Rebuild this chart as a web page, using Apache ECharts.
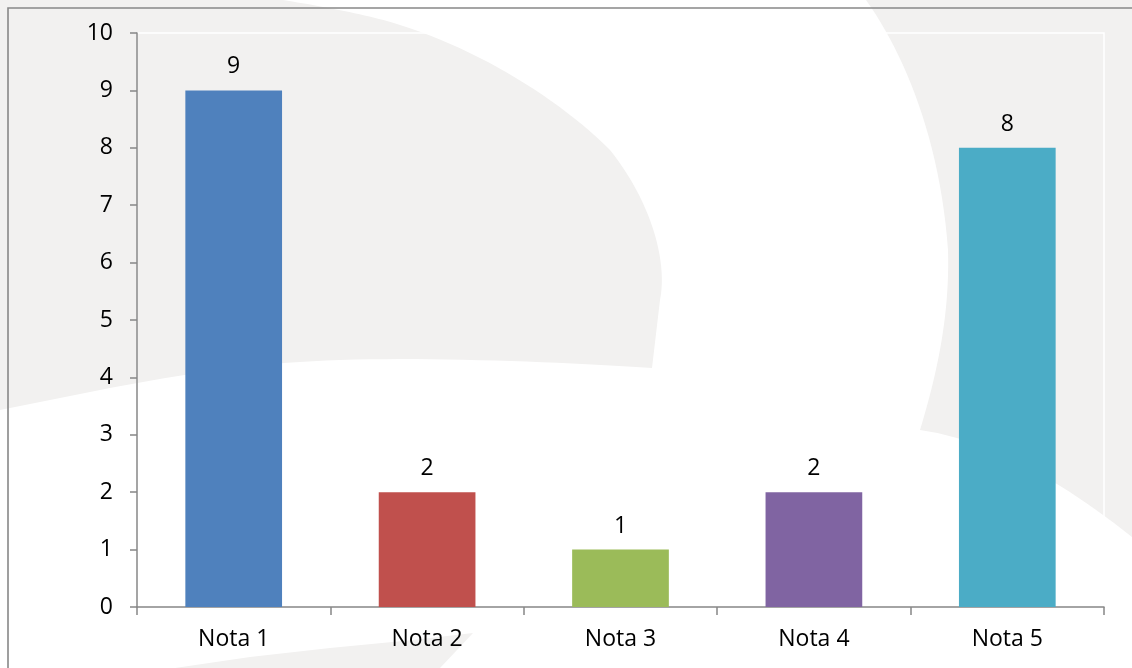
<!DOCTYPE html>
<html>
<head>
<meta charset="utf-8">
<script src="https://cdn.jsdelivr.net/npm/echarts@6/dist/echarts.min.js"></script>
<style>
html,body{margin:0;padding:0;background:#fff;}
#chart{width:1132px;height:668px;}
</style>
</head>
<body>
<div id="chart"></div>
<script>
var categories = ['Nota 1', 'Nota 2', 'Nota 3', 'Nota 4', 'Nota 5'];
var values = [9, 2, 1, 2, 8];
var barColors = ['#4F81BD', '#C0504D', '#9BBB59', '#8064A2', '#4BACC6'];
var yTicks = { min: 0, max: 10, interval: 1 };

var chart = echarts.init(document.getElementById('chart'), null, { renderer: 'canvas' });
var FONT = '"Open Sans", "Liberation Sans", sans-serif';
var wm = '#f2f1f0';

// Decorative watermark outline: segments are either ['L', x, y] or ['C', c1x, c1y, c2x, c2y, x, y]
function shapePoints(start, segs) {
  var pts = [start.slice()];
  var cur = start.slice();
  segs.forEach(function (s) {
    if (s[0] === 'L') {
      cur = [s[1], s[2]];
      pts.push(cur.slice());
    } else {
      var p0 = cur, p1 = [s[1], s[2]], p2 = [s[3], s[4]], p3 = [s[5], s[6]];
      for (var i = 1; i <= 24; i++) {
        var t = i / 24, u = 1 - t;
        pts.push([
          u*u*u*p0[0] + 3*u*u*t*p1[0] + 3*u*t*t*p2[0] + t*t*t*p3[0],
          u*u*u*p0[1] + 3*u*u*t*p1[1] + 3*u*t*t*p2[1] + t*t*t*p3[1]
        ]);
      }
      cur = p3;
    }
  });
  return pts;
}

var leftShape = shapePoints([0, 0], [
  ['L', 283, 0],
  ['C', 320, 6, 370, 15, 400, 25],
  ['C', 480, 50, 560, 100, 610, 150],
  ['C', 650, 200, 668, 260, 660, 300],
  ['L', 652, 368],
  ['C', 560, 362, 400, 355, 300, 362],
  ['C', 200, 368, 100, 390, 0, 410]
]);
var rightShape = shapePoints([866, 0], [
  ['C', 905, 55, 940, 140, 948, 250],
  ['C', 950, 320, 935, 380, 920, 430],
  ['C', 990, 440, 1060, 480, 1132, 537],
  ['L', 1132, 0]
]);

var option = {
  backgroundColor: '#ffffff',
  animation: false,
  graphic: {
    elements: [
      { type: 'polygon', silent: true, z: -100, shape: { points: leftShape }, style: { fill: wm } },
      { type: 'polygon', silent: true, z: -100, shape: { points: rightShape }, style: { fill: wm } },
      { type: 'polygon', silent: true, z: -100,
        shape: { points: [[175,668],[250,657],[330,648],[413,640],[473,633],[440,668]] },
        style: { fill: wm } },
      { type: 'rect', silent: true, z: -50,
        shape: { x: 8, y: 8, width: 1200, height: 700 },
        style: { fill: 'none', stroke: '#888888', lineWidth: 1.6 } }
    ]
  },
  grid: {
    left: 137, right: 28, top: 33, bottom: 61,
    show: true, borderColor: '#ffffff', borderWidth: 1.5, backgroundColor: 'transparent'
  },
  xAxis: {
    type: 'category',
    data: categories,
    axisLine: { show: true, lineStyle: { color: '#878787', width: 1.5 } },
    axisTick: { show: true, length: 8, lineStyle: { color: '#878787', width: 1.5 } },
    axisLabel: { color: '#000', fontFamily: FONT, fontSize: 23, margin: 21 },
    splitLine: { show: false }
  },
  yAxis: {
    type: 'value',
    min: yTicks.min, max: yTicks.max, interval: yTicks.interval,
    axisLine: { show: true, lineStyle: { color: '#878787', width: 1.5 } },
    axisTick: { show: true, length: 7, lineStyle: { color: '#878787', width: 1.5 } },
    axisLabel: { color: '#000', fontFamily: FONT, fontSize: 23, margin: 24 },
    splitLine: { show: false }
  },
  series: [{
    type: 'bar',
    data: values.map(function (v, i) { return { value: v, itemStyle: { color: barColors[i] } }; }),
    barWidth: '50%',
    label: { show: true, position: 'top', distance: 12, color: '#000', fontFamily: FONT, fontSize: 23 }
  }]
};
chart.setOption(option);
</script>
</body>
</html>
